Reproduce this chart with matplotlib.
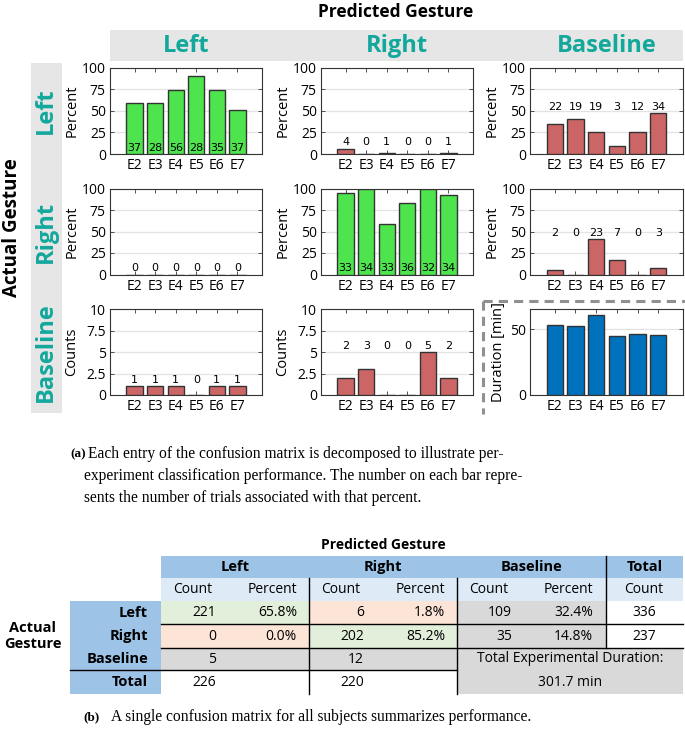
import matplotlib
matplotlib.use("Agg")

import matplotlib.pyplot as plt
from matplotlib.patches import Rectangle
import numpy as np

# ==========================================
# Data
# ==========================================

experiments = ["E2", "E3", "E4", "E5", "E6", "E7"]

# row = actual gesture, col = predicted gesture
left_left_pct = [58.7, 59.6, 73.7, 90.3, 74.5, 51.4]
left_left_n = [37, 28, 56, 28, 35, 37]
left_right_pct = [6.3, 0.0, 1.3, 0.0, 0.0, 1.4]
left_right_n = [4, 0, 1, 0, 0, 1]
left_base_pct = [34.9, 40.4, 25.0, 9.7, 25.5, 47.2]
left_base_n = [22, 19, 19, 3, 12, 34]

right_left_pct = [0.0, 0.0, 0.0, 0.0, 0.0, 0.0]
right_left_n = [0, 0, 0, 0, 0, 0]
right_right_pct = [94.3, 100.0, 58.9, 83.7, 100.0, 91.9]
right_right_n = [33, 34, 33, 36, 32, 34]
right_base_pct = [5.7, 0.0, 41.1, 16.3, 0.0, 8.1]
right_base_n = [2, 0, 23, 7, 0, 3]

base_left_counts = [1, 1, 1, 0, 1, 1]
base_right_counts = [2, 3, 0, 0, 5, 2]

duration_min = [52.8, 52.2, 60.3, 44.4, 46.5, 45.5]

gesture_names = ["Left", "Right", "Baseline"]

# summary table
table_counts = [[221, 6, 109], [0, 202, 35]]
table_pct = [["65.8%", "1.8%", "32.4%"], ["0.0%", "85.2%", "14.8%"]]
row_totals = [336, 237]
baseline_counts = [5, 12]
col_totals = [226, 220]
total_duration = "301.7 min"

# ==========================================
# Styling
# ==========================================

W, H = 685, 738
SANS = ["Open Sans", "DejaVu Sans"]
SERIF = ["Liberation Serif", "DejaVu Serif"]
plt.rcParams["font.family"] = SANS

TEAL = "#13a89c"
GREEN = "#4ee44e"
RED = "#cc6666"
BLUE = "#0072bd"
BAND = "#e6e6e6"

fig = plt.figure(figsize=(W / 100, H / 100), dpi=100)

# overlay in pixel coordinates for boxes, labels and table
ov = fig.add_axes([0, 0, 1, 1], zorder=0)
ov.set_xlim(0, W)
ov.set_ylim(H, 0)
ov.axis("off")


def rect(x0, y0, x1, y1):
    return [x0 / W, 1 - y1 / H, (x1 - x0) / W, (y1 - y0) / H]


# ==========================================
# Part (a): decomposed confusion matrix
# ==========================================

ov.text(396, 12, "Predicted Gesture", ha="center", va="center",
        fontsize=12.5, fontweight="bold")
ov.add_patch(Rectangle((110, 30), 573, 31, color=BAND, lw=0))
ov.add_patch(Rectangle((31, 63), 31, 350, color=BAND, lw=0))

col_x = [(110, 262), (321, 473), (530, 683)]
row_y = [(67.7, 154), (188.5, 274.5), (309.3, 395)]

for (x0, x1), name in zip(col_x, gesture_names):
    ov.text((x0 + x1) / 2, 46, name, ha="center", va="center",
            fontsize=17, fontweight="bold", color=TEAL)
for (y0, y1), name in zip(row_y, gesture_names):
    ov.text(46, (y0 + y1) / 2, name, ha="center", va="center", rotation=90,
            fontsize=17, fontweight="bold", color=TEAL)
ov.text(12, 228, "Actual Gesture", ha="center", va="center", rotation=90,
        fontsize=13.5, fontweight="bold")

# dashed box round the duration panel
ov.plot([483, 483], [301, 414], color="#909090", lw=2.2, ls=(0, (3, 2)))
ov.plot([483, 685], [301, 301], color="#909090", lw=2.2, ls=(0, (3, 2)))

pct_ticks = [0, 25, 50, 75, 100]
cnt_ticks = [0, 2.5, 5, 7.5, 10]

panels = [
    [(left_left_pct, left_left_n, GREEN, True), (left_right_pct, left_right_n, RED, False),
     (left_base_pct, left_base_n, RED, False)],
    [(right_left_pct, right_left_n, RED, False), (right_right_pct, right_right_n, GREEN, True),
     (right_base_pct, right_base_n, RED, False)],
    [(base_left_counts, base_left_counts, RED, False), (base_right_counts, base_right_counts, RED, False),
     None],
]

x = np.arange(1, 7)

for r, (y0, y1) in enumerate(row_y):
    for c, (x0, x1) in enumerate(col_x):
        ax = fig.add_axes(rect(x0, y0, x1, y1), zorder=2)
        spec = panels[r][c]
        if spec is None:
            vals, color = duration_min, BLUE
            ymax, ticks, ylab, labx = 65, [0, 50], "Duration [min]", -0.16
        else:
            vals, nums, color, inside = spec
            if r < 2:
                ymax, ticks, ylab = 100, pct_ticks, "Percent"
            else:
                ymax, ticks, ylab = 10, cnt_ticks, "Counts"
            labx = -0.2

        ax.bar(x, vals, width=0.8, color=color, edgecolor="#333333",
               linewidth=1.0, zorder=3)

        if spec is not None:
            ylab_pos = 0.07 * ymax if inside else max(vals) + 0.075 * ymax
            for xi, n in zip(x, nums):
                ax.text(xi, ylab_pos, str(n), ha="center", va="center",
                        fontsize=8, zorder=4, family=["Liberation Sans Narrow", "DejaVu Sans"])

        ax.set_xlim(-0.2, 7.2)
        ax.set_ylim(0, ymax)
        ax.set_xticks(x)
        ax.set_xticklabels(experiments)
        ax.set_yticks(ticks)
        ax.set_yticklabels([("%g" % t) for t in ticks])
        ax.set_ylabel(ylab, fontsize=10.5)
        ax.yaxis.set_label_coords(labx, 0.5)
        ax.grid(axis="y", color="#e3e3e3", lw=0.9, zorder=0)
        ax.set_axisbelow(True)
        ax.tick_params(direction="in", top=True, right=True, length=3,
                       width=0.6, labelsize=10, pad=3, color="#333333")
        for s in ax.spines.values():
            s.set_color("#333333")
            s.set_linewidth(0.8)

cap_a = [
    "Each entry of the confusion matrix is decomposed to illustrate per-",
    "experiment classification performance. The number on each bar repre-",
    "sents the number of trials associated with that percent.",
]
ov.text(70, 454, "(a)", ha="left", va="center", fontsize=9.5, fontweight="bold",
        family=SERIF)
ov.text(88, 454, cap_a[0], ha="left", va="center", fontsize=11.2, family=SERIF)
ov.text(84, 476, cap_a[1], ha="left", va="center", fontsize=11.2, family=SERIF)
ov.text(84, 498, cap_a[2], ha="left", va="center", fontsize=11.2, family=SERIF)

# ==========================================
# Part (b): summary table
# ==========================================

HEAD = "#9dc3e6"
SUB = "#deebf7"
CGREEN = "#e2efda"
CSALMON = "#fce4d6"
CGRAY = "#d9d9d9"

cx = [161, 309, 457, 605.7, 683]
ry = [556, 578, 601, 624.3, 648.3, 670, 694]

ov.text(383, 545, "Predicted Gesture", ha="center", va="center",
        fontsize=10, fontweight="bold")

ov.add_patch(Rectangle((cx[0], ry[0]), cx[4] - cx[0], ry[1] - ry[0], color=HEAD, lw=0))
ov.add_patch(Rectangle((cx[0], ry[1]), cx[4] - cx[0], ry[2] - ry[1], color=SUB, lw=0))
ov.add_patch(Rectangle((70, ry[2]), cx[0] - 70, ry[6] - ry[2], color=HEAD, lw=0))

cell_colors = [[CGREEN, CSALMON, CGRAY], [CSALMON, CGREEN, CGRAY]]
for i in range(2):
    for j in range(3):
        ov.add_patch(Rectangle((cx[j], ry[2 + i]), cx[j + 1] - cx[j], ry[3 + i] - ry[2 + i],
                               color=cell_colors[i][j], lw=0))
ov.add_patch(Rectangle((cx[0], ry[4]), cx[2] - cx[0], ry[5] - ry[4], color=CGRAY, lw=0))
ov.add_patch(Rectangle((cx[2], ry[4]), cx[4] - cx[2], ry[6] - ry[4], color=CGRAY, lw=0))

hdr_y = (ry[0] + ry[1]) / 2
for j, name in enumerate(gesture_names + ["Total"]):
    ov.text((cx[j] + cx[j + 1]) / 2, hdr_y, name, ha="center", va="center",
            fontsize=10.5, fontweight="bold")

count_right = [216, 364, 512]
pct_right = [297, 445, 593]
count_head = [193, 341, 489]
sub_y = (ry[1] + ry[2]) / 2
for j in range(3):
    ov.text(count_head[j], sub_y, "Count", ha="center", va="center", fontsize=10)
    ov.text(pct_right[j], sub_y, "Percent", ha="right", va="center", fontsize=10)
ov.text(644, sub_y, "Count", ha="center", va="center", fontsize=10)

for i in range(2):
    yy = (ry[2 + i] + ry[3 + i]) / 2
    for j in range(3):
        ov.text(count_right[j], yy, str(table_counts[i][j]), ha="right", va="center", fontsize=10)
        ov.text(pct_right[j], yy, table_pct[i][j], ha="right", va="center", fontsize=10)
    ov.text(644, yy, str(row_totals[i]), ha="center", va="center", fontsize=10)

yb = (ry[4] + ry[5]) / 2
yt = (ry[5] + ry[6]) / 2
for j in range(2):
    ov.text(count_right[j], yb, str(baseline_counts[j]), ha="right", va="center", fontsize=10)
    ov.text(count_right[j], yt, str(col_totals[j]), ha="right", va="center", fontsize=10)
ov.text(570, yb - 1, "Total Experimental Duration:", ha="center", va="center", fontsize=10)
ov.text(570, yt + 1, total_duration, ha="center", va="center", fontsize=10)

for i, name in enumerate(gesture_names + ["Total"]):
    ov.text(148, (ry[2 + i] + ry[3 + i]) / 2, name, ha="right", va="center",
            fontsize=10.5, fontweight="bold")
ov.text(33, 636, "Actual\nGesture", ha="center", va="center", fontsize=10.5,
        fontweight="bold", linespacing=1.25)

lk = dict(color="black", lw=1.0)
ov.plot([cx[1], cx[1]], [ry[1], ry[6]], **lk)
ov.plot([cx[2], cx[2]], [ry[1], ry[6]], **lk)
ov.plot([cx[3], cx[3]], [ry[0], ry[4]], **lk)
ov.plot([cx[0], cx[4]], [ry[3], ry[3]], **lk)
ov.plot([cx[0], cx[4]], [ry[4], ry[4]], **lk)
ov.plot([70, cx[2]], [ry[5], ry[5]], **lk)

ov.text(83, 717, "(b)", ha="left", va="center", fontsize=9.5, fontweight="bold", family=SERIF)
ov.text(111, 717, "A single confusion matrix for all subjects summarizes performance.",
        ha="left", va="center", fontsize=11.2, family=SERIF)

plt.savefig("out.png", dpi=100)
